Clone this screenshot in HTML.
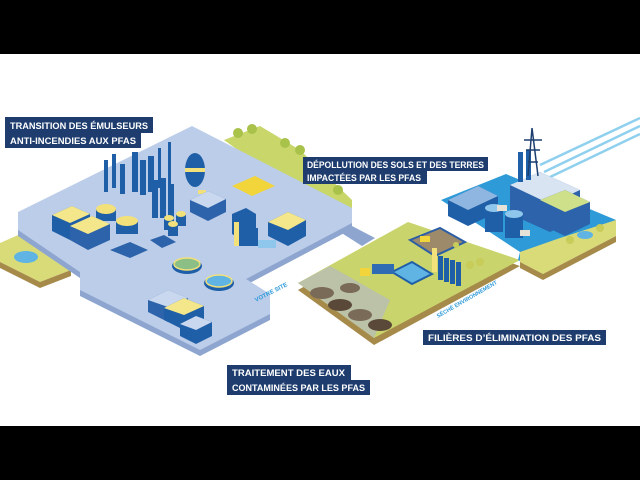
<!DOCTYPE html>
<html><head><meta charset="utf-8"><style>
html,body{margin:0;padding:0;width:640px;height:480px;overflow:hidden;background:#fff}
svg{display:block}
.l{font-family:"Liberation Sans",sans-serif;font-weight:bold;font-size:9.5px;fill:#fff}
</style></head><body>
<svg width="640" height="480" viewBox="0 0 640 480">
<rect x="0" y="0" width="640" height="54" fill="#000"/>
<rect x="0" y="426" width="640" height="54" fill="#000"/>
<path d="M540 165 L640 118 M544 172 L640 126 M548 178 L640 134" stroke="#8fd0ee" stroke-width="2.5" fill="none"/>
<polygon points="224,140 260,126 300,150 352,200 352,212 300,195" fill="#c8d66a"/>
<g fill="#a9c24a"><circle cx="238" cy="133" r="5"/><circle cx="252" cy="129" r="5"/><circle cx="285" cy="143" r="5"/><circle cx="300" cy="150" r="5"/><circle cx="338" cy="190" r="5"/></g>
<polygon points="0,243 25,232 71,258 71,270 40,282 0,262" fill="#d8db78"/>
<polygon points="0,262 40,282 71,270 71,276 40,288 0,268" fill="#a58a4a"/>
<ellipse cx="26" cy="257" rx="12" ry="6" fill="#5fb4e4"/>
<polygon points="18,218 192,131 352,214 352,229 246,285 270,300 270,320 200,356 80,296 80,278 18,236" fill="#8ea6cf"/>
<polygon points="18,212 192,126 352,208 352,223 246,279 270,294 270,314 200,350 80,290 80,272 18,230" fill="#bccde9"/>
<polygon points="340,232 352,226 375,238 362,246" fill="#8ea6cf"/>
<polygon points="298,290 408,228 520,266 374,345" fill="#a58a4a"/>
<polygon points="298,283 408,222 520,260 374,338" fill="#c9d46c"/>
<polygon points="298,283 330,266 390,300 374,338" fill="#bcc2a8"/>
<polygon points="441,200 506,174 616,220 616,230 543,272 518,260 520,252" fill="#2e9ad8"/>
<polygon points="520,252 560,238 616,220 616,236 543,274 520,262" fill="#d8db78"/>
<polygon points="520,262 543,274 616,236 616,242 543,280 520,268" fill="#a58a4a"/>
<g fill="#7a6a58"><ellipse cx="322" cy="293" rx="12" ry="6"/><ellipse cx="340" cy="305" rx="12" ry="6" fill="#5a4838"/><ellipse cx="360" cy="315" rx="12" ry="6"/><ellipse cx="380" cy="325" rx="12" ry="6" fill="#5a4838"/><ellipse cx="350" cy="288" rx="10" ry="5"/></g>
<polygon points="410,240 440,228 465,242 435,256" fill="#9c8a6a" stroke="#2c5ea6" stroke-width="2"/>
<rect x="420" y="236" width="10" height="6" fill="#f2d53a"/>
<polygon points="392,272 412,262 432,274 412,284" fill="#5fb4e4" stroke="#1f5fa8" stroke-width="2"/>
<rect x="372" y="264" width="22" height="10" fill="#2e6bb3"/>
<rect x="360" y="268" width="10" height="8" fill="#f2d53a"/>
<g fill="#1f5fa8"><rect x="438" y="256" width="5" height="24"/><rect x="444" y="258" width="5" height="24"/><rect x="450" y="260" width="5" height="24"/><rect x="456" y="262" width="5" height="24"/></g>
<rect x="432" y="248" width="5" height="24" fill="#f2e07a"/>
<polygon points="448,200 478,186 498,196 498,212 468,226 448,216" fill="#1f5fa8"/>
<polygon points="448,200 478,186 498,196 468,210" fill="#8fb6e0"/>
<polygon points="510,185 540,172 580,190 580,218 550,232 510,214" fill="#2c63aa"/>
<polygon points="510,185 540,172 580,190 550,204" fill="#d9e4f3"/>
<rect x="518" y="152" width="5" height="30" fill="#1f5fa8"/><rect x="526" y="150" width="5" height="30" fill="#1f5fa8"/>
<polygon points="540,200 565,190 590,202 590,224 565,236 540,224" fill="#2c63aa"/>
<polygon points="540,200 565,190 590,202 565,212" fill="#cfe08a"/>
<path d="M532 128 L528 176 M532 128 L538 176 M524 140 L542 140 M526 150 L540 150 M528 162 L538 162" stroke="#1d3f70" stroke-width="1.5" fill="none"/>
<g><rect x="485" y="208" width="18" height="24" fill="#1f5fa8"/><ellipse cx="494" cy="208" rx="9" ry="4" fill="#8fc7ec"/>
<rect x="505" y="214" width="18" height="24" fill="#1f5fa8"/><ellipse cx="514" cy="214" rx="9" ry="4" fill="#8fc7ec"/></g>
<g fill="#e7e2d8"><rect x="497" y="205" width="10" height="6"/><rect x="520" y="230" width="10" height="6"/></g>
<ellipse cx="585" cy="235" rx="8" ry="4" fill="#5fb4e4"/>
<g fill="#c8cc58"><circle cx="470" cy="265" r="4"/><circle cx="480" cy="262" r="4"/><circle cx="456" cy="245" r="3"/><circle cx="570" cy="240" r="4"/><circle cx="600" cy="228" r="4"/></g>
<g fill="#1f5fa8">
<rect x="104" y="160" width="4" height="32"/><rect x="112" y="154" width="4" height="34"/><rect x="120" y="164" width="5" height="30"/>
<rect x="132" y="152" width="6" height="40"/><rect x="140" y="160" width="6" height="35"/><rect x="148" y="156" width="6" height="36"/>
<rect x="158" y="148" width="3" height="40"/><rect x="168" y="142" width="3" height="44"/>
<rect x="152" y="180" width="6" height="38"/><rect x="160" y="178" width="6" height="40"/><rect x="168" y="184" width="6" height="36"/>
</g>
<ellipse cx="195" cy="170" rx="10" ry="17" fill="#1f5fa8"/>
<rect x="185" y="168" width="20" height="4" fill="#f2e07a"/>
<rect x="198" y="190" width="8" height="4" fill="#f2e07a"/>
<g><rect x="96" y="209" width="20" height="12" fill="#1f5fa8"/><ellipse cx="106" cy="209" rx="10" ry="5" fill="#f2e07a"/>
<rect x="116" y="221" width="22" height="13" fill="#1f5fa8"/><ellipse cx="127" cy="221" rx="11" ry="5" fill="#f2e07a"/>
<rect x="164" y="218" width="10" height="12" fill="#1f5fa8"/><ellipse cx="169" cy="218" rx="5" ry="3" fill="#f2e07a"/>
<rect x="176" y="214" width="10" height="12" fill="#1f5fa8"/><ellipse cx="181" cy="214" rx="5" ry="3" fill="#f2e07a"/>
<rect x="168" y="224" width="10" height="12" fill="#1f5fa8"/><ellipse cx="173" cy="224" rx="5" ry="3" fill="#f2e07a"/></g>
<g>
<polygon points="52,215 72,206 90,214 90,230 70,240 52,231" fill="#1f5fa8"/><polygon points="52,215 72,206 90,214 70,223" fill="#f4e68a"/>
<polygon points="70,226 92,216 110,224 110,240 88,250 70,240" fill="#2c63aa"/><polygon points="70,226 92,216 110,224 88,234" fill="#f4e68a"/>
<polygon points="190,200 208,191 226,199 226,212 208,221 190,212" fill="#2c63aa"/><polygon points="190,200 208,191 226,199 208,208" fill="#c9d8ee"/>
<polygon points="268,222 288,212 306,220 306,236 288,246 268,236" fill="#1f5fa8"/><polygon points="268,222 288,212 306,220 288,230" fill="#f4e68a"/>
<polygon points="232,186 255,176 275,186 252,196" fill="#f2d53a"/>
<polygon points="148,300 168,290 188,298 188,312 168,322 148,312" fill="#2c63aa"/><polygon points="148,300 168,290 188,298 168,307" fill="#c9d8ee"/>
<polygon points="164,308 184,298 204,306 204,320 184,330 164,320" fill="#1f5fa8"/><polygon points="164,308 184,298 204,306 184,315" fill="#f4e68a"/>
<polygon points="180,324 196,316 212,322 212,336 196,344 180,336" fill="#1f5fa8"/><polygon points="180,324 196,316 212,322 196,330" fill="#c9d8ee"/>
<polygon points="232,214 246,208 256,214 256,232 242,240 232,234" fill="#1f5fa8"/>
<rect x="236" y="228" width="22" height="18" fill="#1f5fa8"/><rect x="234" y="222" width="5" height="24" fill="#f2e07a"/>
<rect x="258" y="240" width="18" height="8" fill="#8fc7ec"/>
<polygon points="110,250 130,242 148,250 130,258" fill="#2c63aa"/>
<polygon points="150,240 164,235 176,242 162,248" fill="#2c63aa"/>
</g>
<ellipse cx="187" cy="266" rx="15" ry="8" fill="#1f5fa8"/><ellipse cx="187" cy="264" rx="13" ry="6" fill="#8cbf86" stroke="#f2e07a" stroke-width="1.5"/>
<ellipse cx="219" cy="283" rx="15" ry="8" fill="#1f5fa8"/><ellipse cx="219" cy="281" rx="13" ry="6" fill="#5fb4e4" stroke="#f2e07a" stroke-width="1.5"/>
<text x="256" y="302" transform="rotate(-27 256 302)" font-family="Liberation Sans,sans-serif" font-size="6" font-weight="bold" fill="#2e9ad8">VOTRE SITE</text>
<text x="438" y="318" transform="rotate(-30 438 318)" font-family="Liberation Sans,sans-serif" font-size="5.5" font-weight="bold" fill="#2e9ad8">SÉCHÉ ENVIRONNEMENT</text>

<rect x="5" y="117" width="148" height="16" fill="#1e3d6e"/><rect x="5" y="133" width="136" height="15" fill="#1e3d6e"/>
<text class="l" x="10" y="129" textLength="138" lengthAdjust="spacingAndGlyphs">TRANSITION DES ÉMULSEURS</text><text class="l" x="10" y="144" textLength="126" lengthAdjust="spacingAndGlyphs">ANTI-INCENDIES AUX PFAS</text>
<rect x="303" y="157" width="185" height="14" fill="#1e3d6e"/><rect x="303" y="171" width="124" height="13" fill="#1e3d6e"/>
<text class="l" x="307" y="168" textLength="177" lengthAdjust="spacingAndGlyphs">DÉPOLLUTION DES SOLS ET DES TERRES</text><text class="l" x="307" y="181" textLength="114" lengthAdjust="spacingAndGlyphs">IMPACTÉES PAR LES PFAS</text>
<rect x="423" y="330" width="183" height="15" fill="#1e3d6e"/>
<text class="l" x="428" y="341" textLength="173" lengthAdjust="spacingAndGlyphs">FILIÈRES D’ÉLIMINATION DES PFAS</text>
<rect x="227" y="365" width="124" height="15" fill="#1e3d6e"/><rect x="227" y="380" width="143" height="15" fill="#1e3d6e"/>
<text class="l" x="232" y="376" textLength="113" lengthAdjust="spacingAndGlyphs">TRAITEMENT DES EAUX</text><text class="l" x="232" y="391" textLength="133" lengthAdjust="spacingAndGlyphs">CONTAMINÉES PAR LES PFAS</text>
</svg>
</body></html>
